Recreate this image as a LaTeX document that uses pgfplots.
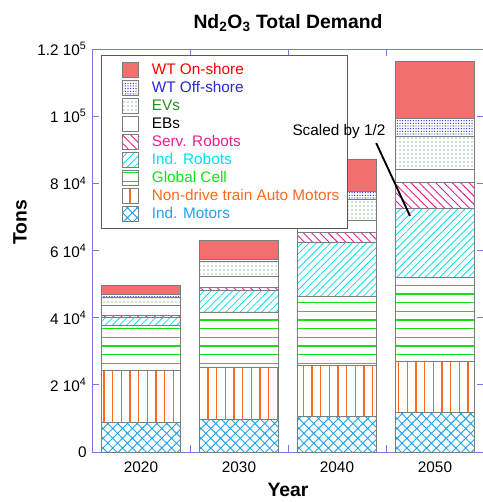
\documentclass[border=0pt]{standalone}
\usepackage{fontspec}
\setmainfont{Liberation Sans}
\usepackage{pgfplots}
\pgfplotsset{compat=1.18}
\usetikzlibrary{patterns,patterns.meta}
\definecolor{axisblue}{RGB}{120,120,235}
\definecolor{onshore}{RGB}{240,112,112}
\definecolor{offshore}{RGB}{40,40,220}
\definecolor{evgreen}{RGB}{40,140,40}
\definecolor{servpink}{RGB}{240,30,140}
\definecolor{indcyan}{RGB}{0,225,240}
\definecolor{cellgreen}{RGB}{20,225,20}
\definecolor{ndorange}{RGB}{255,105,30}
\definecolor{imblue}{RGB}{30,165,240}
\definecolor{baredge}{RGB}{125,125,125}
% sparse horizontal / vertical lines with overlapping cells (no seams)
\pgfdeclarepatternformonly{myhlines}{\pgfqpoint{-0.6pt}{-1pt}}{\pgfqpoint{7.1pt}{1pt}}{\pgfqpoint{6.5pt}{6.5pt}}{%
  \pgfsetlinewidth{0.9pt}\pgfpathmoveto{\pgfqpoint{-0.6pt}{0pt}}\pgfpathlineto{\pgfqpoint{7.1pt}{0pt}}\pgfusepath{stroke}}
\pgfdeclarepatternformonly{myvlines}{\pgfqpoint{-1pt}{-0.6pt}}{\pgfqpoint{1pt}{7.1pt}}{\pgfqpoint{6.5pt}{6.5pt}}{%
  \pgfsetlinewidth{0.9pt}\pgfpathmoveto{\pgfqpoint{0pt}{-0.6pt}}\pgfpathlineto{\pgfqpoint{0pt}{7.1pt}}\pgfusepath{stroke}}
\pgfplotsset{mylegend/.style={legend image code/.code={%
  \pgfpathrectangle{\pgfqpoint{0pt}{-5.5pt}}{\pgfqpoint{22.5pt}{11pt}}\pgfusepath{}%
  \draw[##1,draw=baredge,line width=0.6pt] (10.5pt,-5.5pt) rectangle (22.5pt,5.5pt);}}}
\begin{document}
\fontsize{11.5}{13.8}\selectfont
\begin{tikzpicture}
\begin{axis}[
  scale only axis, width=294pt, height=302.25pt,
  xmin=-0.5, xmax=3.5, ymin=0, ymax=120000,
  ybar stacked, bar width=0.8,
  every axis plot post/.append style={mylegend},
  axis line style={draw=axisblue, line width=0.7pt},
  tick style={draw=axisblue, line width=0.7pt},
  major tick length=5pt,
  xtick={0.5,1.5,2.5}, xticklabels={},
  extra x ticks={0,1,2,3}, extra x tick labels={2020,2030,2040,2050},
  extra x tick style={major tick length=0pt, xticklabel style={yshift=-3pt}},
  ytick={0,20000,40000,60000,80000,100000,120000},
  yticklabels={0,{2 10\textsuperscript{4}},{4 10\textsuperscript{4}},{6 10\textsuperscript{4}},{8 10\textsuperscript{4}},{1 10\textsuperscript{5}},{1.2 10\textsuperscript{5}}},
  scaled y ticks=false,
  /pgf/number format/assume math mode=true,
  tick label style={font=\fontsize{11.5}{13}\selectfont},
  title={\bfseries Nd\textsubscript{2}O\textsubscript{3} Total Demand},
  title style={font=\fontsize{14.5}{16}\selectfont, at={(rel axis cs:0.5,1)}, anchor=base, yshift=9pt},
  xlabel={\bfseries Year},
  ylabel={\bfseries Tons},
  label style={font=\fontsize{14.5}{16}\selectfont},
  xlabel style={yshift=-0.5pt},
  ylabel style={at={(ticklabel cs:0.57)}},
  reverse legend,
  legend cell align=left,
  legend style={at={(0.023,0.985)}, anchor=north west, draw=black!65, line width=0.7pt,
    fill=white, inner xsep=5pt, inner ysep=4.4pt, row sep=0.5pt, column sep=9pt,
    font=\fontsize{11.5}{13}\selectfont,
    nodes={inner sep=1pt, text height=8.5pt, text depth=2.5pt}},
]
\addplot[draw=baredge, line width=0.6pt, pattern={Hatch[angle=45,distance=5.2pt,line width=0.7pt]}, pattern color=imblue]
  coordinates {(0,8700) (1,9800) (2,10700) (3,11800)};
\addlegendentry{\textcolor{imblue}{Ind. Motors}}
\addplot[draw=baredge, line width=0.6pt, pattern=myvlines, pattern color=ndorange]
  coordinates {(0,15500) (1,15300) (2,15200) (3,15300)};
\addlegendentry{\textcolor{ndorange}{Non-drive train Auto Motors}}
\addplot[draw=baredge, line width=0.6pt, pattern=myhlines, pattern color=cellgreen]
  coordinates {(0,13600) (1,16600) (2,20550) (3,24900)};
\addlegendentry{\textcolor{cellgreen}{Global Cell}}
\addplot[draw=baredge, line width=0.6pt, pattern={Lines[angle=45,distance=3.8pt,line width=0.6pt]}, pattern color=indcyan]
  coordinates {(0,2400) (1,6350) (2,16100) (3,20600)};
\addlegendentry{\textcolor{indcyan}{Ind. Robots}}
\addplot[draw=baredge, line width=0.6pt, pattern={Lines[angle=-45,distance=4.4pt,line width=0.7pt]}, pattern color=servpink]
  coordinates {(0,400) (1,1000) (2,2850) (3,7600)};
\addlegendentry{\textcolor{servpink}{Serv. Robots}}
\addplot[draw=baredge, line width=0.6pt, fill=white]
  coordinates {(0,3150) (1,3370) (2,3500) (3,3850)};
\addlegendentry{\textcolor{black}{EBs}}
\addplot[draw=baredge, line width=0.6pt, pattern={Dots[distance=3pt,radius=0.45pt]}, pattern color=evgreen]
  coordinates {(0,2400) (1,4270) (2,6450) (3,9900)};
\addlegendentry{\textcolor{evgreen}{EVs}}
\addplot[draw=baredge, line width=0.6pt, pattern={Dots[distance=2pt,radius=0.5pt]}, pattern color=offshore]
  coordinates {(0,800) (1,700) (2,2150) (3,5300)};
\addlegendentry{\textcolor{offshore}{WT Off-shore}}
\addplot[draw=baredge, line width=0.6pt, fill=onshore]
  coordinates {(0,2750) (1,5550) (2,9750) (3,17150)};
\addlegendentry{\textcolor{red}{WT On-shore}}
\coordinate (TXT) at (axis cs:2.02,95300);
\coordinate (LA) at (axis cs:2.40,92000);
\coordinate (LB) at (axis cs:2.745,70280);
\coordinate (SW) at (rel axis cs:0,0);
\coordinate (NE) at (rel axis cs:1,1);
\end{axis}
\node[font=\fontsize{11.5}{13}\selectfont] at (TXT) {Scaled by 1/2};
\draw[line width=1.4pt] (LA) -- (LB);
\pgfresetboundingbox
\useasboundingbox ([xshift=-69pt,yshift=-37.5pt]SW) rectangle ([xshift=-0.75pt,yshift=36.75pt]NE);
\end{tikzpicture}
\end{document}
